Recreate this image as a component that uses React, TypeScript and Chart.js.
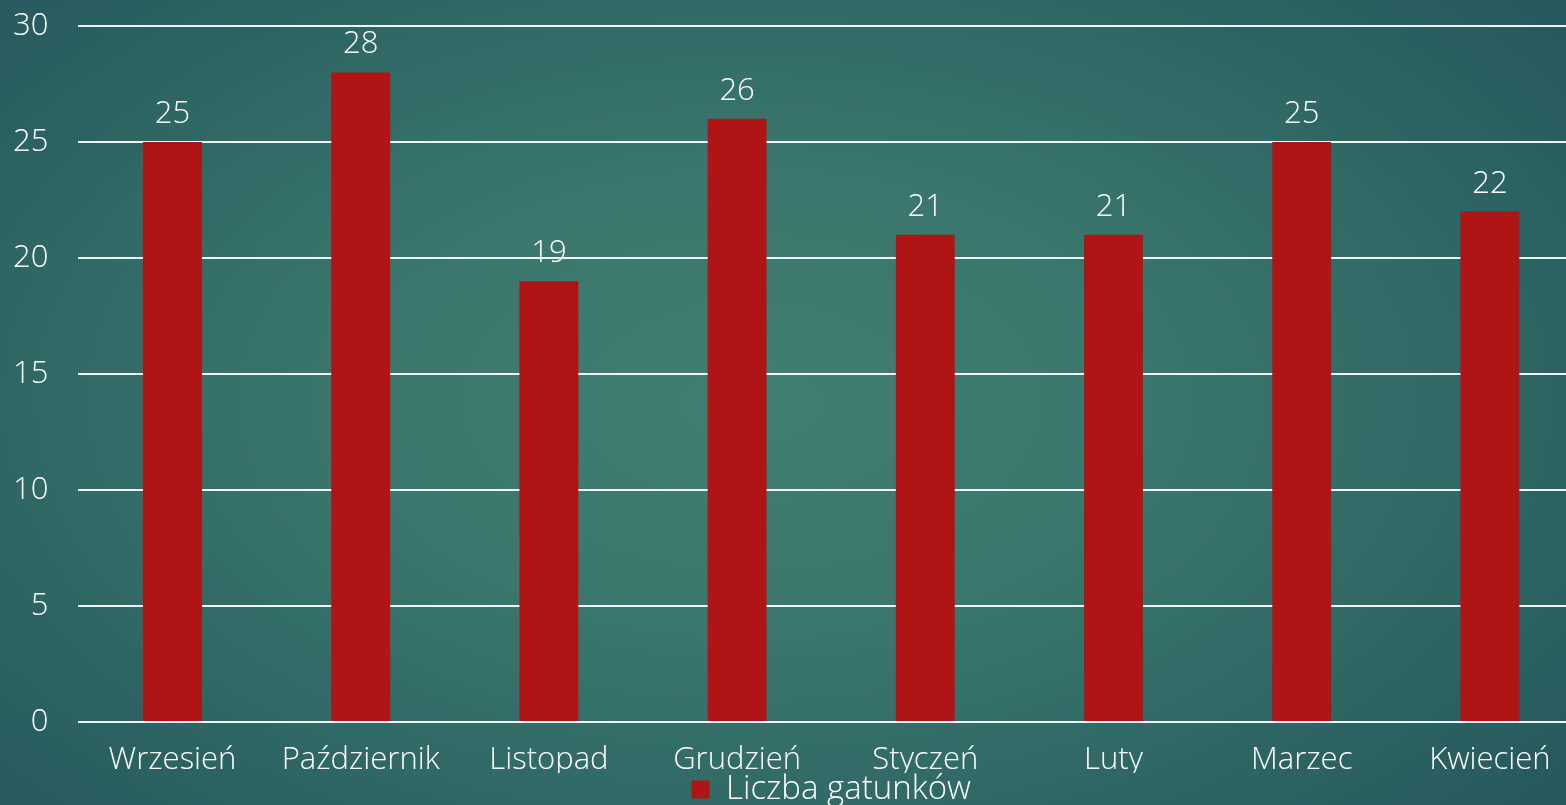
import React, { useEffect, useRef } from "react";
import { Chart, registerables } from "chart.js";

Chart.register(...registerables);

const categories = ["Wrzesień", "Październik", "Listopad", "Grudzień", "Styczeń", "Luty", "Marzec", "Kwiecień"];
const speciesCounts = [25, 28, 19, 26, 21, 21, 25, 22];
const seriesLabel = "Liczba gatunków";
const yMin = 0;
const yMax = 30;
const yStep = 5;

const FONT = "'Open Sans', 'DejaVu Sans', sans-serif";
const WEIGHT = "300";

const dataLabelPlugin = {
  id: "dataLabels",
  afterDatasetsDraw(chart: any) {
    const ctx = chart.ctx;
    ctx.save();
    ctx.fillStyle = "#ffffff";
    ctx.font = `${WEIGHT} 31px ${FONT}`;
    ctx.textAlign = "center";
    ctx.textBaseline = "alphabetic";
    chart.data.datasets.forEach((ds: any, di: number) => {
      const meta = chart.getDatasetMeta(di);
      meta.data.forEach((el: any, i: number) => {
        ctx.fillText(String(ds.data[i]), el.x, el.y - 19);
      });
    });
    ctx.restore();
  },
};

export default function App() {
  const ref = useRef<HTMLCanvasElement | null>(null);

  useEffect(() => {
    if (!ref.current) return;
    const chart = new Chart(ref.current, {
      type: "bar",
      data: {
        labels: categories,
        datasets: [
          {
            label: seriesLabel,
            data: speciesCounts,
            backgroundColor: "#AF1515",
            borderWidth: 0,
            categoryPercentage: 1,
            barPercentage: 0.313,
          },
        ],
      },
      options: {
        animation: false,
        responsive: false,
        devicePixelRatio: 1,
        layout: { padding: { top: 26, left: -17, right: 0, bottom: 0 } },
        plugins: {
          tooltip: { enabled: false },
          legend: {
            position: "bottom",
            fullSize: false,
            maxHeight: 32,
            labels: {
              color: "#ffffff",
              font: { family: FONT, size: 33, weight: WEIGHT, lineHeight: 1 },
              boxWidth: 18,
              boxHeight: 18,
              padding: 0,
            },
          },
        },
        scales: {
          x: {
            grid: { display: false, drawTicks: false },
            border: { display: false },
            ticks: {
              color: "#ffffff",
              font: { family: FONT, size: 31, weight: WEIGHT },
              padding: 20,
              maxRotation: 0,
              autoSkip: false,
            },
            afterFit: (scale: any) => {
              scale.height = 51;
            },
          },
          y: {
            min: yMin,
            max: yMax,
            grid: { color: "rgba(255,255,255,0.92)", lineWidth: 2, drawTicks: false },
            border: { display: false },
            ticks: {
              stepSize: yStep,
              color: "#ffffff",
              font: { family: FONT, size: 31, weight: WEIGHT },
              padding: 30,
            },
            afterFit: (scale: any) => {
              scale.paddingTop = 0;
              scale.paddingBottom = 0;
            },
          },
        },
      },
      plugins: [dataLabelPlugin],
    });
    return () => chart.destroy();
  }, []);

  return (
    <div
      style={{
        position: "fixed",
        left: 0,
        top: 0,
        width: 1566,
        height: 805,
        overflow: "hidden",
        background:
          "radial-gradient(ellipse 75% 85% at 48% 50%, #417e72 0%, #3a766d 35%, #2e6664 65%, #23535a 100%)",
      }}
    >
      <canvas ref={ref} width={1584} height={805} style={{ display: "block" }} />
    </div>
  );
}
